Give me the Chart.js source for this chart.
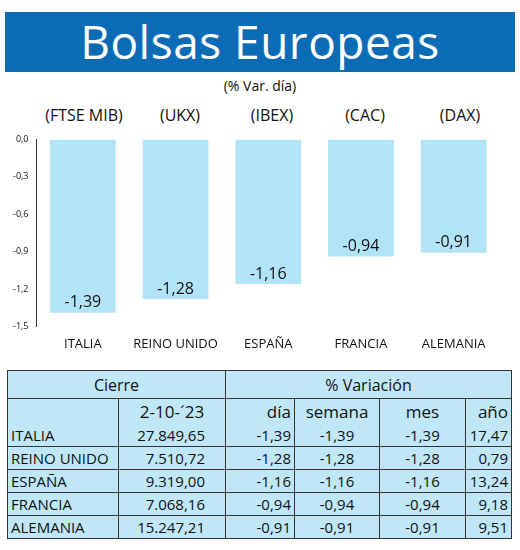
<!DOCTYPE html>
<html><head><meta charset="utf-8">
<script src="https://cdn.jsdelivr.net/npm/chart.js@4"></script>
<style>
body{margin:0;width:520px;height:550px;background:#fff;font-family:"Open Sans",sans-serif;position:relative;overflow:hidden}
#hdr{position:absolute;left:5px;top:12px;width:510px;height:60px;background:#0b6cb5;color:#fff;font-family:"Open Sans";font-size:46px;text-align:center;line-height:58px;letter-spacing:0.5px}
#sub{position:absolute;top:76px;width:520px;text-align:center;font-size:14px;color:#111}
.idx{position:absolute;top:104px;font-size:16px;color:#111;transform:translateX(-50%)}
#cw{position:absolute;left:0;top:130px;width:520px;height:224px}
table{position:absolute;left:7px;top:370px;width:505px;border-collapse:collapse;background:#bfe7f7;font-family:"Liberation Sans Narrow","Open Sans";font-size:15px;color:#111;border:1.5px solid #333}
td{padding:0 3px;height:22px;border-left:1px solid #333;text-align:right;border-bottom:1px solid #333}
td:first-child{text-align:left;border-left:none}
tr.h td{text-align:center;font-family:"Open Sans";font-size:16px;height:27px}
tr.h2 td{font-family:"Open Sans";font-size:17px;height:25px;border-bottom:none}
</style></head><body>
<div id="hdr">Bolsas Europeas</div>
<div id="sub">(% Var. día)</div>
<div id="idxs"></div>
<div id="cw"><canvas id="c"></canvas></div>
<table id="t"></table>
<script>
const categories=["ITALIA","REINO UNIDO","ESPAÑA","FRANCIA","ALEMANIA"];
const indices=["(FTSE MIB)","(UKX)","(IBEX)","(CAC)","(DAX)"];
const dayVar=[-1.39,-1.28,-1.16,-0.94,-0.91];
const cierre=["27.849,65","7.510,72","9.319,00","7.068,16","15.247,21"];
const semana=["-1,39","-1,28","-1,16","-0,94","-0,91"];
const mes=["-1,39","-1,28","-1,16","-0,94","-0,91"];
const anio=["17,47","0,79","13,24","9,18","9,51"];
const yTicks=[0,-0.3,-0.6,-0.9,-1.2,-1.5];
const fmt=v=>v.toFixed(2).replace('.',',');
const idxX=[84,180,272,365,460];
indices.forEach((s,i)=>{const d=document.createElement('div');d.className='idx';d.style.left=idxX[i]+'px';d.textContent=s;document.getElementById('idxs').appendChild(d);});
let h='<tr class="h"><td colspan="2" style="text-align:center">Cierre</td><td colspan="4" style="text-align:center">% Variación</td></tr>';
h+='<tr class="h2"><td style="width:104px"></td><td style="text-align:center;width:100px">2-10-´23</td><td style="width:62px">día</td><td style="text-align:center;width:78px">semana</td><td style="text-align:center;width:79px">mes</td><td>año</td></tr>';
categories.forEach((c,i)=>{h+=`<tr><td>${c}</td><td style="padding-right:20px">${cierre[i]}</td><td>${fmt(dayVar[i])}</td><td style="text-align:center">${semana[i]}</td><td style="text-align:center">${mes[i]}</td><td>${anio[i]}</td></tr>`;});
document.getElementById('t').innerHTML=h;
const lbl={id:'lbl',afterDatasetsDraw(ch){const m=ch.getDatasetMeta(0),x=ch.ctx;x.save();x.font='16px "Open Sans"';x.fillStyle='#111';x.textAlign='center';x.textBaseline='bottom';m.data.forEach((b,i)=>x.fillText(fmt(dayVar[i]),b.x,b.y-2));x.restore();}};
new Chart(document.getElementById('c'),{type:'bar',data:{labels:categories,datasets:[{data:dayVar,backgroundColor:'#b2e4f7',categoryPercentage:0.71,barPercentage:1}]},
options:{responsive:true,maintainAspectRatio:false,animation:false,plugins:{legend:{display:false},tooltip:{enabled:false}},
layout:{padding:{left:9,right:20,top:6}},
scales:{y:{min:-1.5,max:0,afterBuildTicks(a){a.ticks=yTicks.map(v=>({value:v}));},ticks:{font:{size:9,family:'Open Sans'},color:'#111',callback:v=>v.toFixed(1).replace('.',','),padding:4},grid:{display:false,drawTicks:true,tickLength:4},border:{color:'#333'}},
x:{position:'bottom',ticks:{font:{size:13,family:'Open Sans'},color:'#111',padding:2},grid:{display:false},border:{display:false}}}},plugins:[lbl]});
</script></body></html>
